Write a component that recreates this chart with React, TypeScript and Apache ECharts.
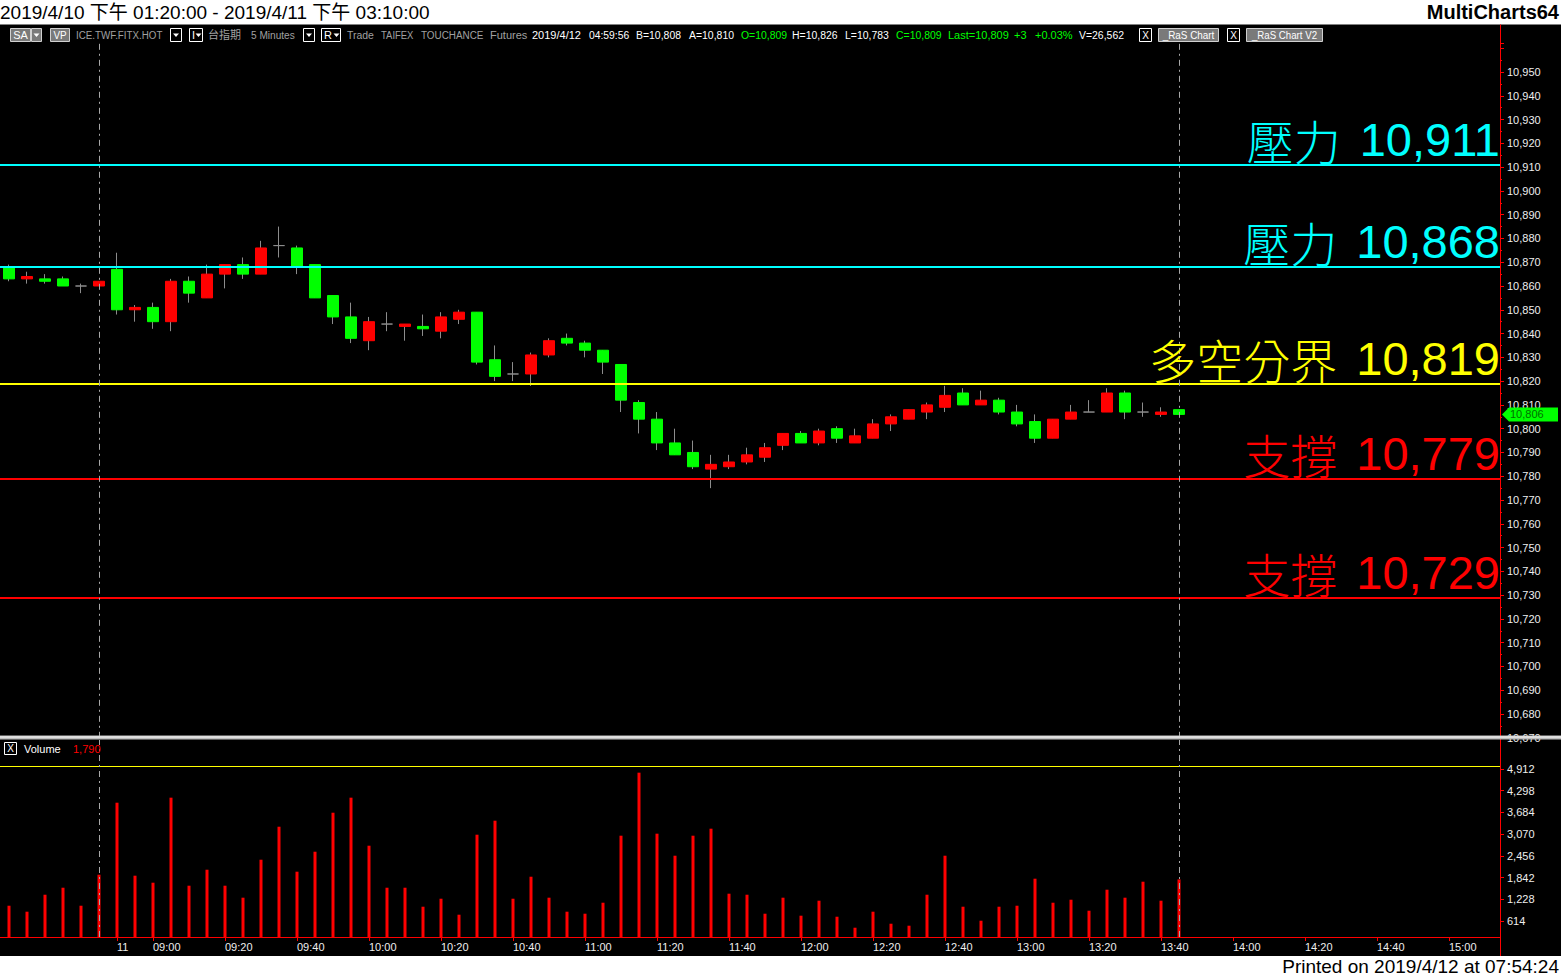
import React, { useEffect, useRef } from 'react';
import * as echarts from 'echarts';

// ---------------- data ----------------
// 5-minute bars, index 0 = 2019/4/10 13:20 ... index 65 = 2019/4/11 13:45
const opens = [
  10868, 10863, 10863, 10863, 10860, 10860, 10867, 10850, 10851, 10845,
  10862, 10855, 10865, 10869, 10865, 10877, 10876, 10869, 10856, 10847,
  10837, 10844, 10843, 10843, 10841, 10846, 10849, 10829, 10823, 10823,
  10831, 10838, 10836, 10833, 10827, 10811, 10804, 10794, 10790, 10783,
  10784, 10786, 10788, 10793, 10798, 10794, 10800, 10794, 10796, 10802,
  10804, 10807, 10809, 10815, 10810, 10812, 10807, 10803, 10796, 10804,
  10807, 10807, 10815, 10807, 10806, 10808,
];
const closes = [
  10863, 10864, 10862, 10860, 10860, 10862, 10850, 10851, 10845, 10862,
  10857, 10865, 10869, 10865, 10876, 10877, 10868, 10855, 10847, 10838,
  10845, 10844, 10844, 10842, 10847, 10849, 10828, 10822, 10823, 10831,
  10837, 10836, 10833, 10828, 10812, 10804, 10794, 10789, 10784, 10785,
  10786, 10789, 10792, 10798, 10794, 10799, 10796, 10797, 10802, 10805,
  10808, 10810, 10814, 10810, 10812, 10807, 10802, 10796, 10804, 10807,
  10807, 10815, 10807, 10807, 10807, 10806,
];
const highs = [
  10869, 10866, 10865, 10864, 10861, 10862, 10874, 10852, 10853, 10863,
  10864, 10869, 10869, 10872, 10879, 10885, 10877, 10869, 10856, 10853,
  10847, 10849, 10844, 10848, 10849, 10850, 10849, 10835, 10828, 10832,
  10838, 10840, 10837, 10833, 10827, 10812, 10807, 10800, 10795, 10789,
  10789, 10792, 10794, 10798, 10799, 10800, 10801, 10800, 10804, 10806,
  10808, 10811, 10818, 10817, 10816, 10813, 10810, 10806, 10804, 10810,
  10812, 10817, 10816, 10811, 10809, 10808,
];
const lows = [
  10862, 10861, 10861, 10860, 10857, 10860, 10848, 10845, 10842, 10841,
  10853, 10855, 10859, 10863, 10865, 10872, 10865, 10855, 10844, 10836,
  10833, 10841, 10837, 10839, 10838, 10844, 10827, 10820, 10820, 10818,
  10830, 10835, 10830, 10823, 10807, 10798, 10791, 10789, 10783, 10775,
  10783, 10785, 10786, 10791, 10794, 10793, 10794, 10794, 10796, 10799,
  10804, 10804, 10807, 10810, 10810, 10806, 10801, 10794, 10796, 10804,
  10807, 10807, 10804, 10805, 10805, 10806,
];
const volumes = [
  1046, 877, 1357, 1555, 1046, 1923, 3959, 1895, 1697, 4101,
  1612, 2064, 1612, 1273, 2347, 3280, 2008, 2573, 3676, 4101,
  2743, 1555, 1555, 1018, 1244, 792, 3054, 3450, 1244, 1866,
  1273, 877, 820, 1131, 3026, 4808, 3083, 2460, 3026, 3224,
  1386, 1357, 820, 1273, 764, 1188, 735, 424, 877, 537,
  481, 1357, 2460, 1018, 622, 1018, 1046, 1810, 1131, 1216,
  905, 1499, 1273, 1725, 1188, 1790,
];

const levelValues = [10911, 10868, 10819, 10779, 10729];
const levelNames = ['壓力', '壓力', '多空分界', '支撐', '支撐'];
const levelColors = ['#00ffff', '#00ffff', '#ffff00', '#ff0000', '#ff0000'];

const timeLabelBars = [6, 8, 12, 16, 20, 24, 28, 32, 36, 40, 44, 48, 52, 56, 60, 64, 68, 72, 76, 80];
const timeLabels = ['11', '09:00', '09:20', '09:40', '10:00', '10:20', '10:40', '11:00', '11:20', '11:40',
  '12:00', '12:20', '12:40', '13:00', '13:20', '13:40', '14:00', '14:20', '14:40', '15:00'];
const sessionEndBars = [5, 65];
const volumeTicks = [614, 1228, 1842, 2456, 3070, 3684, 4298, 4912];
const volumeRefLine = 5000;
const lastPrice = 10806;
const lastVolume = 1790;

// ---------------- layout / style ----------------
const W = 1561;
const H = 977;
const AXIS_X = 1500;
const SLOT = 18;
const X_MAX = AXIS_X / SLOT;
const pos = (i: number) => i + 0.5;
const fmt = (v: number) => Math.round(v).toLocaleString('en-US');
const RED = '#ff0000';
const GREEN = '#00ff00';
const WICK = '#8c8c8c';
const LABEL = '#eeeeee';
const TBGRAY = '#a0a0a0';
const ARIAL = '"Liberation Sans", Arial, "Noto Sans CJK TC", sans-serif';
const CJK = '"Noto Sans CJK TC", sans-serif';

let gid = 0;
const txt = (text: string, x: number, y: number, fill: string, fontSize: number, opts: any = {}) => ({
  type: 'text', id: 'g' + gid++, x, y, z: 100, silent: true,
  scaleX: opts.scaleX || 1,
  style: {
    text, fill, fontSize, fontFamily: opts.fontFamily || ARIAL, fontWeight: opts.fontWeight || 'normal',
    align: opts.align || 'left', textAlign: opts.align || 'left',
    verticalAlign: 'middle', textVerticalAlign: 'middle',
  },
});
const rect = (x: number, y: number, w: number, h: number, fill: string, stroke?: string) => ({
  type: 'rect', id: 'g' + gid++, z: 100, silent: true,
  shape: { x, y, width: w, height: h },
  style: { fill, stroke: stroke || 'none', lineWidth: 1 },
});
const line = (x1: number, y1: number, x2: number, y2: number, stroke: string, lineWidth = 1) => ({
  type: 'line', id: 'g' + gid++, z: 100, silent: true,
  shape: { x1, y1, x2, y2 },
  style: { stroke, lineWidth },
});
const tri = (cx: number, cy: number, fill: string) => ({
  type: 'polygon', id: 'g' + gid++, z: 101, silent: true,
  shape: { points: [[cx - 3, cy - 1.5], [cx + 3, cy - 1.5], [cx, cy + 2]] },
  style: { fill },
});
const dropBox = (x: number, w: number, label?: string) => {
  const out: any[] = [rect(x + 0.5, 28.5, w, 13, '#000', '#ffffff')];
  if (label) {
    out.push(txt(label, x + 3, 35, '#ffffff', 11));
    out.push(tri(x + w - 3.5, 35, '#ffffff'));
  } else {
    out.push(tri(x + w / 2 + 0.5, 35, '#ffffff'));
  }
  return out;
};
const grayBox = (x: number, w: number, label: string, scaleX = 1) => [
  rect(x + 0.5, 28.5, w, 13, '#7a7a7a', '#d0d0d0'),
  txt(label, x + w / 2 + 0.5, 35, '#ffffff', 11, { align: 'center', scaleX }),
];
const xBox = (x: number) => [
  rect(x + 0.5, 28.5, 12, 13, '#000', '#ffffff'),
  txt('X', x + 6.5, 35, '#ffffff', 10, { align: 'center' }),
];

function decorations() {
  const TY = 35;
  const items: any[] = [
    // white header and footer strips
    rect(0, 0, W, 24.5, '#ffffff'),
    txt('2019/4/10 下午 01:20:00 - 2019/4/11 下午 03:10:00', 0, 12, '#000000', 19),
    txt('MultiCharts64', 1559, 12, '#000000', 20, { fontWeight: 'bold', align: 'right' }),
    rect(0, 956, W, H - 956, '#ffffff'),
    txt('Printed on 2019/4/12 at 07:54:24', 1559, 966, '#000000', 19, { align: 'right' }),
    // toolbar
    rect(10.5, 28.5, 20, 13, '#7a7a7a', '#d0d0d0'),
    txt('SA', 20.5, TY, '#ffffff', 11, { align: 'center' }),
    rect(31.5, 28.5, 10, 13, '#7a7a7a', '#d0d0d0'),
    tri(36.5, TY, '#ffffff'),
    ...grayBox(50, 19, 'VP', 0.9),
    txt('ICE.TWF.FITX.HOT', 76, TY, TBGRAY, 11, { scaleX: 0.89 }),
    ...dropBox(170, 11),
    ...dropBox(189, 13, 'I'),
    txt('台指期', 208, TY, TBGRAY, 11),
    txt('5 Minutes', 251, TY, TBGRAY, 11, { scaleX: 0.92 }),
    ...dropBox(303, 11),
    ...dropBox(321, 19, 'R'),
    txt('Trade', 347, TY, TBGRAY, 11, { scaleX: 0.95 }),
    txt('TAIFEX', 381, TY, TBGRAY, 11, { scaleX: 0.86 }),
    txt('TOUCHANCE', 421, TY, TBGRAY, 11, { scaleX: 0.9 }),
    txt('Futures', 490, TY, TBGRAY, 11),
    txt('2019/4/12', 532, TY, '#ffffff', 11),
    txt('04:59:56', 589, TY, '#ffffff', 11, { scaleX: 0.94 }),
    txt('B=10,808', 636, TY, '#ffffff', 11, { scaleX: 0.95 }),
    txt('A=10,810', 689, TY, '#ffffff', 11, { scaleX: 0.95 }),
    txt('O=10,809', 741, TY, GREEN, 11, { scaleX: 0.95 }),
    txt('H=10,826', 792, TY, '#ffffff', 11, { scaleX: 0.95 }),
    txt('L=10,783', 845, TY, '#ffffff', 11, { scaleX: 0.95 }),
    txt('C=10,809', 896, TY, GREEN, 11, { scaleX: 0.95 }),
    txt('Last=10,809', 948, TY, GREEN, 11),
    txt('+3', 1014, TY, GREEN, 11),
    txt('+0.03%', 1035, TY, GREEN, 11),
    txt('V=26,562', 1079, TY, '#ffffff', 11, { scaleX: 0.95 }),
    ...xBox(1139),
    ...grayBox(1158, 60, '_RaS Chart', 0.9),
    ...xBox(1227),
    ...grayBox(1246, 76, '_RaS Chart V2', 0.88),
    // right axis line through whole black area
    line(AXIS_X + 0.5, 24.5, AXIS_X + 0.5, 956, RED),
    // pane separator
    rect(0, 735.5, W, 4, '#bdbdbd'),
    line(0, 737, W, 737, '#ffffff'),
    // volume legend
    rect(4.5, 742.5, 12, 12, '#000', '#ffffff'),
    txt('X', 10.5, 748.5, '#ffffff', 10, { align: 'center' }),
    txt('Volume', 24, 749, '#ffffff', 11),
    txt(fmt(lastVolume), 73, 749, RED, 11),
  ];
  return items;
}

function buildOption(): any {
  const wickData = opens.map((o, i) => [pos(i), o, closes[i], lows[i], highs[i]]);
  const bodyData = opens.map((o, i) => {
    const c = closes[i];
    const item: any = { value: [pos(i), o, c, Math.min(o, c), Math.max(o, c)] };
    if (o === c) {
      item.itemStyle = { color: WICK, color0: WICK, borderColor: WICK, borderColor0: WICK, borderColorDoji: WICK };
    }
    return item;
  });
  const volData = volumes.map((v, i) => [pos(i), v]);
  const sessionLines = sessionEndBars.map((b) => ({
    xAxis: pos(b),
    lineStyle: { color: '#a8a8a8', width: 1, type: [6, 4, 2, 4] },
    label: { show: false },
  }));
  const levelLines = levelValues.map((v, k) => ({
    yAxis: v,
    lineStyle: { color: levelColors[k], width: 2, type: 'solid' },
    label: {
      show: true,
      position: 'insideEndTop',
      distance: [0, 0],
      formatter: `{a|${levelNames[k]}}{b| ${fmt(v)}}`,
      rich: {
        a: { fontFamily: CJK, fontSize: 47, fontWeight: 300, color: levelColors[k], lineHeight: 50, padding: [0, 6, 0, 0] },
        b: { fontFamily: ARIAL, fontSize: 47, color: levelColors[k], lineHeight: 50 },
      },
    },
  }));

  const yAxisCommon = {
    position: 'right',
    axisLine: { show: true, onZero: false, lineStyle: { color: RED } },
    splitLine: { show: false },
  };

  return {
    animation: false,
    backgroundColor: '#000000',
    grid: [
      { left: 0, top: 43.47, width: AXIS_X, height: 694.33 },
      { left: 0, top: 740, width: AXIS_X, height: 197 },
    ],
    xAxis: [
      { type: 'value', gridIndex: 0, min: 0, max: X_MAX, show: false, splitLine: { show: false } },
      {
        type: 'value', gridIndex: 1, min: 0, max: X_MAX,
        axisLine: { show: true, onZero: false, lineStyle: { color: RED, width: 1 } },
        axisTick: { show: true, customValues: timeLabelBars.map(pos), length: 4, lineStyle: { color: RED } },
        axisLabel: {
          customValues: timeLabelBars.map(pos),
          formatter: (v: number) => {
            const k = timeLabelBars.indexOf(Math.round(v - 0.5));
            return k >= 0 ? timeLabels[k] : '';
          },
          color: LABEL, fontSize: 11, fontFamily: ARIAL, align: 'left', margin: 4,
        },
        splitLine: { show: false },
      },
    ],
    yAxis: [
      {
        ...yAxisCommon,
        type: 'value', gridIndex: 0, min: 10670, max: 10962, interval: 10,
        axisTick: { show: true, length: 4, lineStyle: { color: RED } },
        minorTick: { show: true, splitNumber: 2, length: 2, lineStyle: { color: RED } },
        axisLabel: {
          color: LABEL, fontSize: 11, fontFamily: ARIAL, margin: 7,
          formatter: (v: number) => (v > 10955 ? '' : fmt(v)),
        },
      },
      {
        ...yAxisCommon,
        type: 'value', gridIndex: 1, min: 161.6, max: 5732,
        axisTick: { show: true, customValues: volumeTicks, length: 4, lineStyle: { color: RED } },
        axisLabel: {
          customValues: volumeTicks,
          color: LABEL, fontSize: 11, fontFamily: ARIAL, margin: 7,
          formatter: (v: number) => fmt(v),
        },
      },
    ],
    series: [
      {
        name: 'wicks', type: 'candlestick', xAxisIndex: 0, yAxisIndex: 0,
        data: wickData, barWidth: 1, silent: true, z: 2,
        itemStyle: { color: WICK, color0: WICK, borderColor: WICK, borderColor0: WICK, borderColorDoji: WICK, borderWidth: 1 },
      },
      {
        name: 'bodies', type: 'candlestick', xAxisIndex: 0, yAxisIndex: 0,
        data: bodyData, barWidth: 12, silent: true, z: 3,
        itemStyle: { color: RED, color0: GREEN, borderColor: RED, borderColor0: GREEN, borderColorDoji: WICK, borderWidth: 1 },
        markLine: {
          silent: true, symbol: ['none', 'none'], animation: false,
          data: [...levelLines, ...sessionLines],
        },
      },
      {
        name: 'Volume', type: 'bar', xAxisIndex: 1, yAxisIndex: 1,
        data: volData, barWidth: 3, silent: true,
        itemStyle: { color: RED },
        markLine: {
          silent: true, symbol: ['none', 'none'], animation: false,
          data: [
            { yAxis: volumeRefLine, lineStyle: { color: '#ffff00', width: 1, type: 'solid' }, label: { show: false } },
            ...sessionLines,
          ],
        },
      },
    ],
    graphic: { elements: decorations() },
  };
}

export default function App() {
  const ref = useRef<HTMLDivElement>(null);
  useEffect(() => {
    document.body.style.margin = '0';
    const chart = echarts.init(ref.current!, null, { renderer: 'svg' });
    const option = buildOption();
    chart.setOption(option);
    const y = chart.convertToPixel({ yAxisIndex: 0 }, lastPrice) as number;
    const marker = [
      {
        type: 'polygon', id: 'lastArrow', z: 110, silent: true,
        shape: { points: [[1502, y], [1509, y - 7], [1558, y - 7], [1558, y + 7], [1509, y + 7]] },
        style: { fill: GREEN },
      },
      {
        type: 'text', id: 'lastText', z: 111, silent: true, x: 1510, y,
        style: { text: fmt(lastPrice), fill: '#007000', fontSize: 11, fontFamily: ARIAL, align: 'left', textAlign: 'left', verticalAlign: 'middle', textVerticalAlign: 'middle' },
      },
    ];
    chart.setOption({ graphic: { elements: [...option.graphic.elements, ...marker] } });
    return () => chart.dispose();
  }, []);
  return <div ref={ref} style={{ position: 'absolute', left: 0, top: 0, width: W, height: H }} />;
}
